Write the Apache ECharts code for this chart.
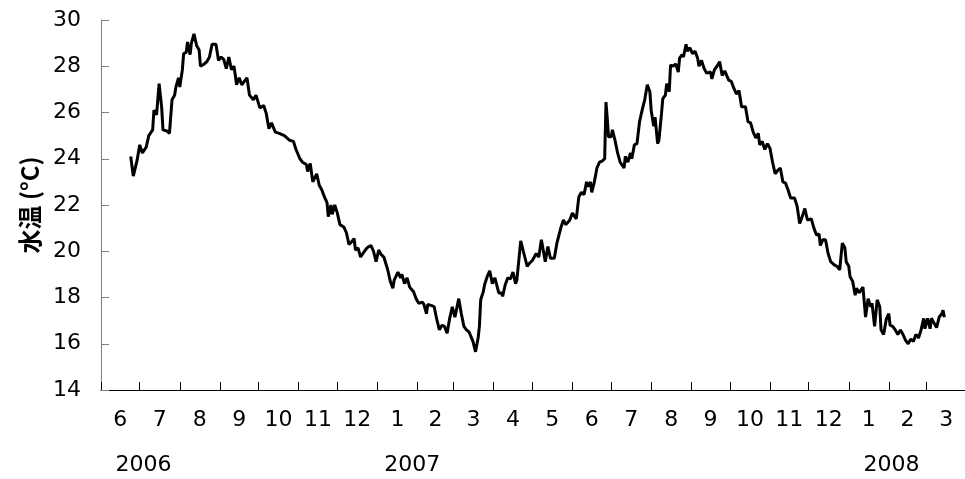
<!DOCTYPE html>
<html>
<head>
<meta charset="utf-8">
<script src="https://cdn.jsdelivr.net/npm/echarts@6/dist/echarts.min.js"></script>
<style>
html,body{margin:0;padding:0;background:#fff;}
#chart{width:965px;height:479px;}
</style>
</head>
<body>
<div id="chart"></div>
<script>
// ---- data ----
const sampleDates = [
'2006-06-24','2006-06-26','2006-06-29','2006-07-01','2006-07-03','2006-07-06','2006-07-08','2006-07-11','2006-07-12','2006-07-14',
'2006-07-16','2006-07-18','2006-07-19','2006-07-22','2006-07-24','2006-07-26','2006-07-28','2006-07-29','2006-07-31','2006-08-01',
'2006-08-03','2006-08-04','2006-08-06','2006-08-07','2006-08-09','2006-08-10','2006-08-12','2006-08-14','2006-08-16','2006-08-17',
'2006-08-20','2006-08-22','2006-08-24','2006-08-26','2006-08-29','2006-08-31','2006-09-02','2006-09-04','2006-09-06','2006-09-08',
'2006-09-10','2006-09-12','2006-09-14','2006-09-16','2006-09-18','2006-09-20','2006-09-22','2006-09-24','2006-09-27','2006-09-29',
'2006-10-02','2006-10-05','2006-10-07','2006-10-09','2006-10-11','2006-10-14','2006-10-17','2006-10-21','2006-10-25','2006-10-28',
'2006-10-30','2006-11-02','2006-11-04','2006-11-07','2006-11-08','2006-11-10','2006-11-12','2006-11-15','2006-11-17','2006-11-19',
'2006-11-21','2006-11-23','2006-11-24','2006-11-26','2006-11-27','2006-11-29','2006-12-01','2006-12-03','2006-12-06','2006-12-08',
'2006-12-10','2006-12-12','2006-12-14','2006-12-15','2006-12-17','2006-12-19','2006-12-22','2006-12-24','2006-12-27','2006-12-29',
'2006-12-31','2007-01-02','2007-01-04','2007-01-06','2007-01-09','2007-01-11','2007-01-13','2007-01-14','2007-01-17','2007-01-19',
'2007-01-20','2007-01-22','2007-01-24','2007-01-26','2007-01-29','2007-01-31','2007-02-02','2007-02-05','2007-02-06','2007-02-08',
'2007-02-09','2007-02-12','2007-02-14','2007-02-16','2007-02-18','2007-02-20','2007-02-22','2007-02-24','2007-02-26','2007-02-28',
'2007-03-02','2007-03-03','2007-03-05','2007-03-07','2007-03-09','2007-03-11','2007-03-13','2007-03-14','2007-03-16','2007-03-18',
'2007-03-20','2007-03-21','2007-03-22','2007-03-24','2007-03-25','2007-03-27','2007-03-29','2007-03-31','2007-04-02','2007-04-05',
'2007-04-07','2007-04-08','2007-04-10','2007-04-12','2007-04-14','2007-04-16','2007-04-18','2007-04-19','2007-04-22','2007-04-24',
'2007-04-27','2007-04-29','2007-05-01','2007-05-04','2007-05-06','2007-05-08','2007-05-11','2007-05-13','2007-05-15','2007-05-18',
'2007-05-20','2007-05-23','2007-05-25','2007-05-27','2007-05-30','2007-06-01','2007-06-04','2007-06-06','2007-06-08','2007-06-10',
'2007-06-12','2007-06-13','2007-06-15','2007-06-16','2007-06-18','2007-06-20','2007-06-22','2007-06-24','2007-06-26','2007-06-27',
'2007-06-28','2007-06-29','2007-07-01','2007-07-02','2007-07-04','2007-07-06','2007-07-08','2007-07-11','2007-07-12','2007-07-14',
'2007-07-16','2007-07-17','2007-07-19','2007-07-21','2007-07-23','2007-07-25','2007-07-27','2007-07-29','2007-07-31','2007-08-01',
'2007-08-03','2007-08-04','2007-08-06','2007-08-07','2007-08-09','2007-08-10','2007-08-12','2007-08-13','2007-08-15','2007-08-16',
'2007-08-18','2007-08-20','2007-08-22','2007-08-23','2007-08-25','2007-08-26','2007-08-28','2007-08-29','2007-08-31','2007-09-02',
'2007-09-04','2007-09-06','2007-09-07','2007-09-09','2007-09-11','2007-09-13','2007-09-16','2007-09-17','2007-09-19','2007-09-21',
'2007-09-23','2007-09-25','2007-09-27','2007-09-30','2007-10-02','2007-10-04','2007-10-06','2007-10-08','2007-10-10','2007-10-13',
'2007-10-15','2007-10-17','2007-10-19','2007-10-21','2007-10-23','2007-10-24','2007-10-26','2007-10-28','2007-10-30','2007-11-01',
'2007-11-03','2007-11-05','2007-11-07','2007-11-09','2007-11-11','2007-11-13','2007-11-15','2007-11-17','2007-11-20','2007-11-22',
'2007-11-24','2007-11-26','2007-11-28','2007-11-30','2007-12-03','2007-12-05','2007-12-07','2007-12-09','2007-12-10','2007-12-12',
'2007-12-14','2007-12-16','2007-12-18','2007-12-21','2007-12-23','2007-12-25','2007-12-27','2007-12-29','2007-12-30','2008-01-01',
'2008-01-02','2008-01-04','2008-01-06','2008-01-07','2008-01-09','2008-01-12','2008-01-14','2008-01-16','2008-01-18','2008-01-19',
'2008-01-21','2008-01-23','2008-01-25','2008-01-26','2008-01-28','2008-01-30','2008-02-01','2008-02-02','2008-02-04','2008-02-06',
'2008-02-08','2008-02-10','2008-02-12','2008-02-14','2008-02-16','2008-02-18','2008-02-20','2008-02-22','2008-02-24','2008-02-26',
'2008-02-28','2008-02-29','2008-03-02','2008-03-04','2008-03-05','2008-03-07','2008-03-09','2008-03-11','2008-03-13','2008-03-14',
'2008-03-15'
];
const waterTemp = [
24.1,23.25,23.95,24.6,24.25,24.5,25.0,25.25,26.1,25.9,
27.25,26.2,25.25,25.2,25.1,26.55,26.75,27.1,27.5,27.1,
27.85,28.55,28.6,29.05,28.5,29.0,29.4,28.9,28.7,28.0,
28.1,28.2,28.4,28.95,28.95,28.25,28.4,28.3,27.9,28.4,
27.85,28.0,27.2,27.5,27.2,27.35,27.5,26.75,26.55,26.75,
26.2,26.3,25.95,25.3,25.55,25.15,25.1,25.0,24.8,24.75,
24.4,24.0,23.85,23.75,23.45,23.8,23.0,23.35,22.85,22.65,
22.35,22.1,21.5,22.0,21.6,22.0,21.65,21.15,21.05,20.8,
20.3,20.4,20.55,20.05,20.15,19.75,20.0,20.15,20.25,20.0,
19.55,20.05,19.85,19.75,19.2,18.7,18.4,18.75,19.1,18.85,
19.0,18.6,18.85,18.45,18.25,17.95,17.75,17.8,17.7,17.3,
17.7,17.65,17.6,17.05,16.6,16.8,16.75,16.45,17.1,17.6,
17.15,17.4,17.95,17.3,16.75,16.6,16.5,16.45,16.1,15.65,
16.25,16.75,17.9,18.25,18.55,18.9,19.15,18.6,18.85,18.2,
18.2,18.05,18.55,18.85,18.8,19.1,18.6,18.75,20.45,20.0,
19.35,19.5,19.6,19.9,19.75,20.5,19.55,20.2,19.7,19.7,
20.35,21.0,21.35,21.15,21.35,21.65,21.4,22.35,22.55,22.45,
23.0,22.8,23.0,22.55,23.0,23.6,23.85,23.9,24.0,26.45,
25.75,24.95,24.95,25.25,24.8,24.25,23.85,23.6,24.1,23.85,
24.25,24.0,24.6,24.65,25.6,26.1,26.55,27.2,26.9,26.1,
25.4,25.8,24.65,24.8,25.95,26.6,26.75,27.25,26.9,28.05,
28.0,28.1,27.75,28.35,28.5,28.4,28.95,28.65,28.8,28.55,
28.65,28.35,28.0,28.25,27.9,27.7,27.75,27.45,27.85,28.0,
28.2,27.6,27.8,27.4,27.35,27.05,26.8,26.95,26.25,26.25,
25.6,25.55,25.15,24.9,25.1,24.6,24.75,24.4,24.65,24.45,
23.85,23.35,23.5,23.6,23.0,22.95,22.65,22.3,22.3,21.95,
21.2,21.5,21.85,21.35,21.4,21.0,20.7,20.75,20.25,20.5,
20.5,19.9,19.55,19.4,19.35,19.2,20.35,20.15,19.55,19.35,
18.9,18.7,18.1,18.4,18.2,18.45,17.15,17.95,17.6,17.75,
16.75,17.9,17.6,16.6,16.4,17.05,17.3,16.8,16.75,16.6,
16.4,16.6,16.4,16.15,16.0,16.2,16.1,16.4,16.25,16.6,
17.1,16.65,17.1,16.65,17.1,16.9,16.7,17.15,17.3,17.45,
17.15
];
// month boundaries (tick positions) and their labels
const monthStarts = ['2006-06-01','2006-07-01','2006-08-01','2006-09-01','2006-10-01','2006-11-01','2006-12-01',
  '2007-01-01','2007-02-01','2007-03-01','2007-04-01','2007-05-01','2007-06-01','2007-07-01','2007-08-01',
  '2007-09-01','2007-10-01','2007-11-01','2007-12-01','2008-01-01','2008-02-01','2008-03-01','2008-04-01'];
const monthLabels = ['6','7','8','9','10','11','12','1','2','3','4','5','6','7','8','9','10','11','12','1','2','3'];
const yearPositions = ['2006-07-04','2007-01-28','2008-02-03'];
const yearLabels = ['2006','2007','2008'];
const yTicks = {min: 14, max: 30, step: 2};
const yTitle = '水温 (°C)';
const xRange = ['2006-06-01','2008-03-31'];

// ---- chart ----
function parseDate(s){ const p = s.split('-').map(Number); return new Date(p[0], p[1]-1, p[2]).getTime(); }
const FONT = '"DejaVu Sans", Verdana, sans-serif';
const chart = echarts.init(document.getElementById('chart'), null, {renderer: 'canvas'});

const lineData = sampleDates.map((d, i) => [parseDate(d), waterTemp[i]]);
const monthData = monthLabels.map((_, i) => [parseDate(monthStarts[i]), parseDate(monthStarts[i+1]), yTicks.min]);
const yearData = yearPositions.map(d => [parseDate(d), yTicks.min]);
const tickValues = monthStarts.slice(0, monthLabels.length).map(parseDate);

chart.setOption({
  animation: false,
  backgroundColor: '#fff',
  grid: {left: 101, top: 20, bottom: 89, right: -6, containLabel: false},
  xAxis: {
    type: 'time', min: parseDate(xRange[0]), max: parseDate(xRange[1]),
    axisLine: {show: true, lineStyle: {color: '#000', width: 1}},
    axisTick: {show: true, inside: true, length: 8, customValues: tickValues, lineStyle: {color: '#000', width: 1}},
    axisLabel: {show: false}, splitLine: {show: false}
  },
  yAxis: {
    type: 'value', min: yTicks.min, max: yTicks.max, interval: yTicks.step,
    name: yTitle, nameLocation: 'middle', nameGap: 58, nameRotate: 90,
    nameTextStyle: {fontFamily: '"Noto Sans CJK JP", ' + FONT, fontSize: 24, fontWeight: 'bold', color: '#000'},
    axisLine: {show: true, lineStyle: {color: '#808080', width: 1}},
    axisTick: {show: true, inside: true, length: 8, lineStyle: {color: '#808080'}},
    axisLabel: {fontFamily: FONT, fontSize: 22, color: '#000', margin: 20},
    splitLine: {show: false}
  },
  series: [
    {
      type: 'line', data: lineData, showSymbol: false, symbol: 'none',
      lineStyle: {color: '#000', width: 3}, z: 5
    },
    {
      type: 'custom', data: monthData, clip: false, encode: {x: [0, 1], y: 2}, z: 3,
      renderItem: function (params, api) {
        const i = params.dataIndex;
        const p0 = api.coord([api.value(0), yTicks.min]);
        const p1 = api.coord([api.value(1), yTicks.min]);
        return {type: 'text', style: {text: monthLabels[i], x: (p0[0] + p1[0]) / 2, y: p0[1] + 30,
          align: 'center', verticalAlign: 'middle', textAlign: 'center', textVerticalAlign: 'middle',
          font: '22px ' + FONT, fill: '#000'}};
      }
    },
    {
      type: 'custom', data: yearData, clip: false, encode: {x: 0, y: 1}, z: 3,
      renderItem: function (params, api) {
        const i = params.dataIndex;
        const p = api.coord([api.value(0), api.value(1)]);
        return {type: 'text', style: {text: yearLabels[i], x: p[0], y: p[1] + 75,
          align: 'center', verticalAlign: 'middle', textAlign: 'center', textVerticalAlign: 'middle',
          font: '22px ' + FONT, fill: '#000'}};
      }
    }
  ]
});
</script>
</body>
</html>
